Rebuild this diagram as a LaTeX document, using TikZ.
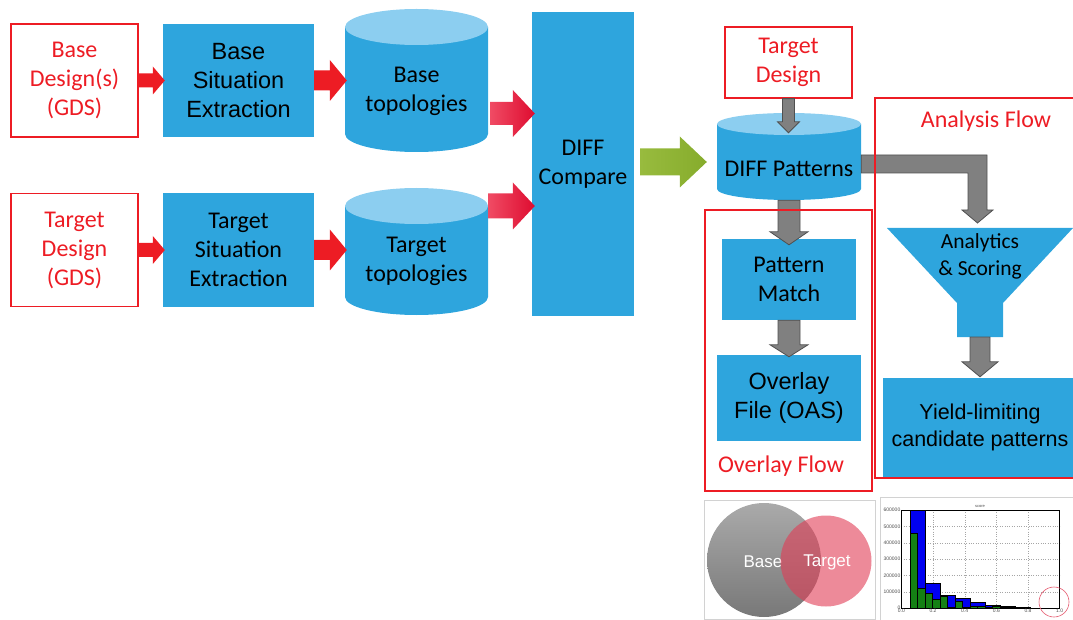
\documentclass[tikz,border=0pt]{standalone}
\usepackage{fontspec}
\setmainfont{Carlito}
\newfontfamily\arial{Liberation Sans}
\usetikzlibrary{calc}

\definecolor{boxblue}{RGB}{46,165,221}
\definecolor{cyltop}{RGB}{140,206,240}
\definecolor{rred}{RGB}{237,28,36}
\definecolor{pinkl}{RGB}{240,75,100}
\definecolor{redr}{RGB}{222,12,48}
\definecolor{grnl}{RGB}{152,187,62}
\definecolor{grnr}{RGB}{134,172,44}
\definecolor{arrgray}{RGB}{128,128,128}
\definecolor{arrdark}{RGB}{80,80,80}
\definecolor{venntop}{RGB}{170,170,170}
\definecolor{vennbot}{RGB}{120,120,120}
\definecolor{vennpink}{RGB}{225,60,85}
\definecolor{histblue}{RGB}{0,0,240}
\definecolor{histgreen}{RGB}{20,128,20}

% right-pointing block arrow: from, to, shaft half, head half, head length, style
\newcommand\rarrow[6]{%
  \path[#6] let \p1=(#1), \p2=(#2) in
    (\x1,\y1+#3pt) -- (\x2-#5pt,\y1+#3pt) -- (\x2-#5pt,\y1+#4pt) -- (\x2,\y1)
    -- (\x2-#5pt,\y1-#4pt) -- (\x2-#5pt,\y1-#3pt) -- (\x1,\y1-#3pt) -- cycle;}
% down-pointing block arrow
\newcommand\darrow[6]{%
  \path[#6] let \p1=(#1), \p2=(#2) in
    (\x1-#3pt,\y1) -- (\x1-#3pt,\y2+#5pt) -- (\x1-#4pt,\y2+#5pt) -- (\x1,\y2)
    -- (\x1+#4pt,\y2+#5pt) -- (\x1+#3pt,\y2+#5pt) -- (\x1+#3pt,\y1) -- cycle;}
% cylinder: name, cx, rx, ytop, ybot, ry
\newcommand\cyl[6]{%
  \fill[boxblue] ({#2-#3},{#4+#6}) -- ({#2-#3},{#5-#6})
    arc[start angle=180,end angle=360,x radius=#3pt,y radius=#6pt]
    -- ({#2+#3},{#4+#6}) -- cycle;
  \fill[cyltop] (#2,{#4+#6}) ellipse[x radius=#3pt, y radius=#6pt];
  \node[minimum width={2*#3*1pt}, minimum height={(#5-#4)*1pt}, inner sep=0pt] (#1) at (#2,{(#4+#5)/2}) {};}

\begin{document}
\begin{tikzpicture}[x=1pt,y=-1pt,
  cal/.style={font=\fontsize{24}{29}\selectfont, align=center},
  ari/.style={font=\arial\fontsize{23.5}{29}\selectfont, align=center},
  redbox/.style={draw=rred, line width=1.3pt, text=rred, cal, inner sep=0pt},
  bluebox/.style={fill=boxblue, inner sep=0pt, text=black},
  frame/.style={draw=rred, line width=1.3pt, inner sep=0pt},
  rtext/.style={text=rred, cal},
  redarrow/.style={fill=rred},
  gradarrow/.style={left color=pinkl, right color=redr},
  greenarrow/.style={left color=grnl, right color=grnr},
  grayarrow/.style={fill=arrgray, draw=arrdark, line width=0.8pt, line join=miter},
  tick/.style={font=\arial\fontsize{5}{6}\selectfont, text=black!70, inner sep=0.5pt}]
\useasboundingbox (0,0) rectangle (1073,620);
\clip (0,0) rectangle (1073,620);

% ---- left column ----
\node[redbox, minimum width=127pt, minimum height=113pt] (bd) at (74.5,80.5) {Base\\Design(s)\\(GDS)};
\node[bluebox, ari, minimum width=151pt, minimum height=113pt] (bse) at (238.5,80.5) {Base\\Situation\\Extraction};
\node[redbox, minimum width=127pt, minimum height=113pt] (td) at (74.5,250) {Target\\Design\\(GDS)};
\node[bluebox, cal, minimum width=151pt, minimum height=113pt] (tse) at (238.5,250) {Target\\Situation\\Extraction};

% ---- cylinders ----
\cyl{btopo}{416.5}{71.5}{9}{152}{18}
\cyl{ttopo}{416.5}{71.5}{188}{315}{18}
\cyl{dp}{789}{72}{113}{200}{11}
\node[cal] (btopot) at ([yshift=-10.5pt]btopo.center) {Base\\topologies};
\node[cal] (ttopot) at ([yshift=-9.5pt]ttopo.center) {Target\\topologies};
\node[cal] (dpt) at ([yshift=-12pt]dp.center) {DIFF Patterns};

% ---- DIFF compare ----
\node[bluebox, cal, minimum width=102pt, minimum height=304pt] (diff) at (583,164) {DIFF\\Compare};

% ---- right part ----
\node[redbox, minimum width=127pt, minimum height=71pt] (tdr) at (788.5,62.5) {Target\\Design};
\node[bluebox, cal, minimum width=134pt, minimum height=81pt] (pm) at (789,279.5) {Pattern\\Match};
\node[bluebox, ari, minimum width=144pt, minimum height=86pt] (ov) at (789,398) {Overlay\\File (OAS)};

\fill[boxblue] (887,228) -- (1073,228) -- (1003,303) -- (1003,337) -- (957,337) -- (957,303) -- cycle;
\coordinate (fun) at (980,228);
\coordinate (spout) at (980,337);
\node[font=\fontsize{21.5}{27}\selectfont, align=center] (an) at (980,256) {Analytics\\\& Scoring};
\node[bluebox, font=\arial\fontsize{21.5}{27}\selectfont, align=center, minimum width=194pt, minimum height=99pt] (yl) at (980,427.5) {Yield-limiting\\candidate patterns};

% ---- block arrows ----
\rarrow{bd.east}{[xshift=2pt]bse.west}{7}{14}{12}{redarrow}
\rarrow{bse.east}{[xshift=2pt]btopo.west}{10}{20.5}{17}{redarrow}
\rarrow{td.east}{[xshift=2pt]tse.west}{7}{14}{12}{redarrow}
\rarrow{tse.east}{[xshift=2pt]ttopo.west}{10}{20.5}{17}{redarrow}
\rarrow{[yshift=-33pt,xshift=2pt]btopo.east}{[xshift=3pt]diff.west}{11.5}{23.5}{22}{gradarrow}
\rarrow{[yshift=45.5pt]ttopo.east}{[xshift=3pt]diff.west}{12.5}{23.5}{22}{gradarrow}
\rarrow{[xshift=6pt,yshift=2pt]diff.east}{[xshift=-10pt]dp.west}{13.5}{25.5}{27}{greenarrow}

\darrow{tdr.south}{[yshift=-20pt]dp.north}{6}{11}{11}{grayarrow}
\darrow{dp.south}{[yshift=-6pt]pm.north}{11}{19}{13}{grayarrow}
\darrow{pm.south}{[yshift=-2pt]ov.north}{11}{19}{12}{grayarrow}
\darrow{spout}{[yshift=1pt]yl.north}{10}{18}{15}{grayarrow}

\path[grayarrow] let \p1=([yshift=-7.5pt]dp.east), \p2=([xshift=-2.5pt,yshift=5pt]fun) in
  (\x1,\y1+9pt) -- (\x2+9.5pt,\y1+9pt) -- (\x2+9.5pt,\y2+13pt) -- (\x2+15.5pt,\y2+13pt)
  -- (\x2,\y2) -- (\x2-15.5pt,\y2+13pt) -- (\x2-9.5pt,\y2+13pt) -- (\x2-9.5pt,\y1-9pt)
  -- (\x1,\y1-9pt) -- cycle;

% ---- flow frames ----
\node[frame, minimum width=167pt, minimum height=281pt] (ovf) at (788.5,350.5) {};
\node[rtext] (olab) at (781,466) {Overlay Flow};
\node[frame, minimum width=210pt, minimum height=380pt] (anf) at (980,288) {};
\node[rtext] (alab) at (986,121) {Analysis Flow};

% ---- Venn picture ----
\draw[gray!35, line width=0.8pt] (704,500) rectangle (875,619);
\shade[top color=venntop, bottom color=vennbot] (764,560) circle[radius=57pt];
\node[font=\arial\fontsize{17}{20}\selectfont, text=white] (vb) at (763,562) {Base};
\fill[vennpink, opacity=0.6] (826,561) circle[radius=45.5pt];
\node[font=\arial\fontsize{17}{20}\selectfont, text=white] (vt) at (827,562) {Target};

% ---- histogram ----
\draw[gray!35, line width=0.8pt] (880,497) rectangle (1080,621);
\foreach \gx in {933,964.7,996.3,1028}
  \draw[gray!70, dotted, line width=0.4pt] (\gx,510) -- (\gx,608);
\foreach \gy in {591.7,575.3,559,542.7,526.3}
  \draw[gray!70, dotted, line width=0.4pt] (901.3,\gy) -- (1059.7,\gy);
\foreach \xl/\t in {909.7/510,924.7/582.7,939.7/595,954.7/598.3,969.7/602.3,984.7/605,999.7/606,1014.7/607.3,1029.7/607.8}
  \draw[fill=histblue, draw=black, line width=0.3pt] (\xl,608) rectangle ({\xl+15},\t);
\foreach \k/\t in {0/532.7,1/587.7,2/593.3,3/599.3,4/596,5/607,6/601,7/607.5,8/606,9/606,10/607.5,11/606,12/607.5,13/607.5}
  \draw[fill=histgreen, draw=black, line width=0.3pt] ({909.7+7.5*\k},608) rectangle ({917.2+7.5*\k},\t);
\draw[black, line width=0.5pt] (901.3,510) rectangle (1059.7,608);
\foreach \v/\gy in {600000/510,500000/526.3,400000/542.7,300000/559,200000/575.3,100000/591.7,0/608}
  \node[tick, anchor=east] (yt\v) at (901,\gy) {\v};
\foreach \v/\gx in {0.0/901.3,0.2/933,0.4/964.7,0.6/996.3,0.8/1028,1.0/1059.7}
  \node[tick, anchor=north] (xt\gx) at (\gx,608.5) {\v};
\node[tick, font=\arial\fontsize{4}{5}\selectfont] (htitle) at (980,506.5) {score};
\draw[vennpink!85, line width=0.6pt] (1054,602) circle[radius=15pt];
\end{tikzpicture}
\end{document}
